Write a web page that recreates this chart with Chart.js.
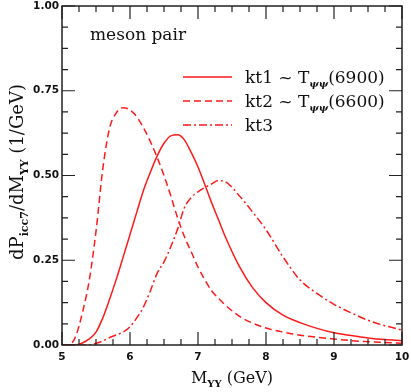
<!DOCTYPE html>
<html>
<head>
<meta charset="utf-8">
<title>meson pair</title>
<script src="https://cdn.jsdelivr.net/npm/chart.js@4.4.1/dist/chart.umd.min.js"></script>
<style>
  body { margin: 0; background: #fff; }
  #box { width: 411px; height: 392px; position: relative; }
</style>
</head>
<body>
<div id="box"><canvas id="gr"></canvas></div>
<script>
// masses (GeV)
const mass = [5.0, 5.1, 5.2, 5.3, 5.4, 5.5, 5.6, 5.7, 5.8, 5.9, 6.0, 6.1, 6.2, 6.3, 6.4, 6.5, 6.6, 6.7, 6.8, 6.9,
              7.0, 7.2, 7.3, 7.4, 7.6, 7.8, 8.0, 8.25, 8.5, 8.75, 9.0, 9.25, 9.5, 9.75, 10.0];
// kt1 ~ T(6900), solid
const kt1 = [0, 0, 0, 0.006, 0.018, 0.038, 0.08, 0.135, 0.195, 0.26, 0.326, 0.392, 0.457, 0.51, 0.558, 0.595, 0.617, 0.62, 0.605, 0.568,
             0.525, 0.42, 0.37, 0.32, 0.235, 0.17, 0.125, 0.088, 0.066, 0.049, 0.036, 0.028, 0.021, 0.016, 0.0128];
// kt2 ~ T(6600), dashed
const kt2 = [0, 0, 0.025, 0.095, 0.19, 0.335, 0.52, 0.64, 0.685, 0.70, 0.693, 0.673, 0.64, 0.60, 0.553, 0.50, 0.44, 0.375, 0.32, 0.275,
             0.23, 0.16, 0.138, 0.118, 0.086, 0.065, 0.05, 0.038, 0.029, 0.023, 0.0177, 0.013, 0.0098, 0.0072, 0.005];
// kt3, dash-dot
const kt3 = [0, 0, 0, 0, 0, 0.005, 0.012, 0.022, 0.03, 0.038, 0.054, 0.08, 0.113, 0.16, 0.212, 0.245, 0.29, 0.342, 0.405, 0.435,
             0.452, 0.475, 0.485, 0.482, 0.442, 0.393, 0.34, 0.26, 0.192, 0.152, 0.12, 0.095, 0.073, 0.057, 0.044];

const yLabels = ["0.00", "0.25", "0.50", "0.75", "1.00"];
const xLabels = ["5", "6", "7", "8", "9", "10"];

const RED = "#ff1a1a";
const DASH2 = [7, 4];
const DASH3 = [8, 3, 2, 3];

function pts(ys) {
    return mass.map((m, i) => ({ x: m, y: ys[i] }));
}

// draws text pieces: [text, font, dy]
function drawPieces(ctx, pieces, x, y, align) {
    let total = 0;
    pieces.forEach(p => { ctx.font = p[1]; total += ctx.measureText(p[0]).width; });
    let cx = align === "center" ? x - total / 2 : x;
    pieces.forEach(p => {
        ctx.font = p[1];
        ctx.fillText(p[0], cx, y + p[2]);
        cx += ctx.measureText(p[0]).width;
    });
}

const frame = {
    id: "frame",
    afterDraw(chart) {
        const ctx = chart.ctx, a = chart.chartArea;
        const xs = chart.scales.x, ys = chart.scales.y;
        ctx.save();
        ctx.strokeStyle = "#222";
        ctx.lineWidth = 1.5;
        ctx.strokeRect(a.left, a.top, a.right - a.left, a.bottom - a.top);

        // ticks, inside
        ctx.lineWidth = 1.2;
        ctx.beginPath();
        for (let i = 0; i <= 20; i++) {
            const v = 5 + i * 0.25, px = xs.getPixelForValue(v);
            const len = (i % 4 === 0) ? 13 : 6;
            ctx.moveTo(px, a.bottom); ctx.lineTo(px, a.bottom - len);
            ctx.moveTo(px, a.top); ctx.lineTo(px, a.top + len);
        }
        for (let i = 0; i <= 16; i++) {
            const v = i * 0.0625, py = ys.getPixelForValue(v);
            const len = (i % 4 === 0) ? 13 : 6;
            ctx.moveTo(a.left, py); ctx.lineTo(a.left + len, py);
            ctx.moveTo(a.right, py); ctx.lineTo(a.right - len, py);
        }
        ctx.stroke();

        // tick labels
        ctx.fillStyle = "#111";
        ctx.font = "bold 10.5px 'DejaVu Sans'";
        ctx.textBaseline = "middle";
        ctx.textAlign = "right";
        yLabels.forEach((t, i) => ctx.fillText(t, a.left - 3, ys.getPixelForValue(i * 0.25)));
        ctx.textAlign = "center";
        ctx.textBaseline = "top";
        xLabels.forEach((t, i) => ctx.fillText(t, xs.getPixelForValue(5 + i), a.bottom + 7));

        // axis titles
        ctx.textAlign = "left";
        ctx.textBaseline = "alphabetic";
        const big = "17px 'DejaVu Serif'", sub = "bold 10px 'DejaVu Serif'";
        drawPieces(ctx, [["M", "16px 'DejaVu Serif'", 0], ["YY", sub, 4], [" (GeV)", "16px 'DejaVu Serif'", 0]],
                   (a.left + a.right) / 2, 383, "center");

        ctx.save();
        ctx.translate(23, 172);
        ctx.rotate(-Math.PI / 2);
        drawPieces(ctx, [["dP", "18px 'DejaVu Serif'", 0], ["icc7", "bold 11px 'DejaVu Serif'", 5],
                         ["/dM", "18px 'DejaVu Serif'", 0], ["YY", "bold 11px 'DejaVu Serif'", 5],
                         [" (1/GeV)", "18px 'DejaVu Serif'", 0]], 0, 0, "center");
        ctx.restore();

        // label
        ctx.font = big;
        ctx.fillText("meson pair", 90, 40);

        // legend
        const items = [
            [[], ["kt1 ~ T", "(6900)"]],
            [DASH2, ["kt2 ~ T", "(6600)"]],
            [DASH3, ["kt3"]]
        ];
        items.forEach((it, i) => {
            const y = 77 + i * 24;
            ctx.strokeStyle = RED;
            ctx.lineWidth = 1.5;
            ctx.setLineDash(it[0]);
            ctx.beginPath(); ctx.moveTo(183, y); ctx.lineTo(232, y); ctx.stroke();
            ctx.setLineDash([]);
            ctx.fillStyle = "#111";
            const p = [[it[1][0], big, 0]];
            if (it[1].length > 1) {
                p.push(["ψψ", "bold italic 10px 'DejaVu Serif'", 4]);
                p.push([it[1][1], big, 0]);
            }
            drawPieces(ctx, p, 245, y + 6, "left");
        });
        ctx.restore();
    }
};

new Chart(document.getElementById("gr"), {
    type: "line",
    data: {
        datasets: [
            { label: "kt1", data: pts(kt1), borderColor: RED, borderWidth: 1.5 },
            { label: "kt2", data: pts(kt2), borderColor: RED, borderWidth: 1.5, borderDash: DASH2 },
            { label: "kt3", data: pts(kt3), borderColor: RED, borderWidth: 1.5, borderDash: DASH3 }
        ]
    },
    options: {
        responsive: true,
        maintainAspectRatio: false,
        animation: false,
        layout: { padding: { left: 62, right: 9, top: 6, bottom: 47 } },
        elements: { point: { radius: 0 }, line: { cubicInterpolationMode: "monotone", fill: false } },
        plugins: { legend: { display: false }, tooltip: { enabled: false } },
        scales: {
            x: { type: "linear", min: 5, max: 10, display: false },
            y: { min: 0, max: 1, display: false }
        }
    },
    plugins: [frame]
});
</script>
</body>
</html>
